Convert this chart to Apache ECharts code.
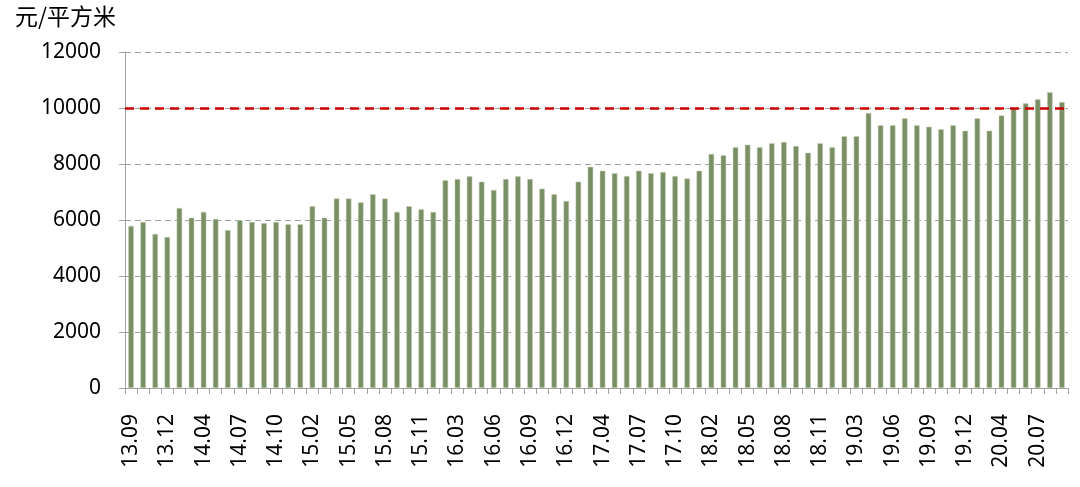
<!DOCTYPE html>
<html><head><meta charset="utf-8">
<script src="https://cdn.jsdelivr.net/npm/echarts@6/dist/echarts.min.js"></script>
<style>html,body{margin:0;padding:0;background:#fff}#c{width:1080px;height:487px}</style>
</head><body><div id="c"></div>
<script>
const categories = [
 '13.09','13.10','13.11','13.12',
 '14.02','14.03','14.04','14.05','14.06','14.07','14.08','14.09','14.10','14.11','14.12',
 '15.02','15.03','15.04','15.05','15.06','15.07','15.08','15.09','15.10','15.11','15.12',
 '16.02','16.03','16.04','16.05','16.06','16.07','16.08','16.09','16.10','16.11','16.12',
 '17.02','17.03','17.04','17.05','17.06','17.07','17.08','17.09','17.10','17.11','17.12',
 '18.02','18.03','18.04','18.05','18.06','18.07','18.08','18.09','18.10','18.11','18.12',
 '19.02','19.03','19.04','19.05','19.06','19.07','19.08','19.09','19.10','19.11','19.12',
 '20.02','20.03','20.04','20.05','20.06','20.07','20.08','20.09'
];
const prices = [
 5790,5930,5500,5390,
 6430,6080,6290,6040,5640,5990,5930,5890,5930,5850,5850,
 6490,6080,6770,6770,6630,6920,6770,6290,6490,6380,6290,
 7420,7460,7560,7370,7070,7460,7560,7460,7120,6920,6680,
 7370,7900,7760,7670,7570,7760,7670,7710,7570,7480,7760,
 8360,8310,8600,8690,8600,8740,8790,8640,8400,8740,8600,
 8990,8990,9820,9380,9380,9630,9380,9330,9240,9380,9190,
 9630,9190,9730,9980,10170,10310,10560,10210
];
const referenceLevel = 10000;
const yUnit = '元/平方米';

const chart = echarts.init(document.getElementById('c'));
chart.setOption({
  animation: false,
  grid: {left: 125, right: 12, top: 52, bottom: 99},
  graphic: [{
    type: 'text', left: 15, top: 5,
    style: {text: yUnit, font: '23px "Noto Sans CJK SC", "Noto Sans"', fill: '#000'}
  }],
  xAxis: {
    type: 'category', data: categories, boundaryGap: true,
    axisLine: {lineStyle: {color: '#a0a0a0', width: 1}},
    axisTick: {show: true, interval: 0, length: 6, lineStyle: {color: '#a0a0a0'}},
    axisLabel: {interval: 2, rotate: 90, margin: 26, color: '#000',
      fontFamily: 'Noto Sans', fontSize: 21}
  },
  yAxis: {
    type: 'value', min: 0, max: 12000, interval: 2000,
    axisLine: {show: true, lineStyle: {color: '#a0a0a0', width: 1}},
    axisTick: {show: true, length: 6, lineStyle: {color: '#a0a0a0'}},
    axisLabel: {margin: 24, color: '#000', fontFamily: 'Noto Sans', fontSize: 21,
      formatter: v => String(v)},
    splitLine: {show: true, lineStyle: {color: '#a0a0a0', type: [6, 4], width: 1}}
  },
  series: [{
    type: 'bar', data: prices, barWidth: 5.5,
    itemStyle: {color: '#7a9064', borderColor: '#c9d3bf', borderWidth: 0.5},
    markLine: {
      silent: true, symbol: 'none', label: {show: false},
      lineStyle: {color: '#cc0000', width: 2.5, type: [9, 6]},
      data: [{yAxis: referenceLevel}]
    }
  }]
});
</script></body></html>
